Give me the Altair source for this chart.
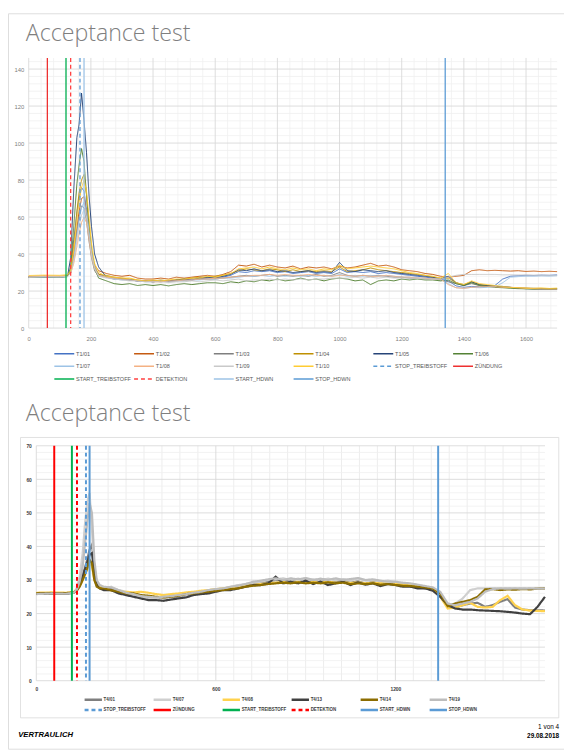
import altair as alt
import pandas as pd

# ---------------- shared time axis (s) ----------------
TIME = [0, 50, 100, 125, 135, 145, 155, 162, 170, 178, 186, 194, 202, 212, 225,
        250, 275, 300, 325, 350, 375, 400, 425, 450, 475,
        500, 525, 550, 575, 600, 625, 650, 675, 700, 725,
        750, 775, 800, 825, 850, 875, 900, 925, 950, 975,
        1000, 1025, 1050, 1075, 1100, 1125, 1150, 1175, 1200, 1225,
        1250, 1275, 1300, 1325, 1350, 1375, 1400, 1425, 1450, 1475,
        1500, 1525, 1550, 1575, 1600, 1625, 1650, 1675, 1700]

# ---------------- chart 1 series ----------------
T1_NAMES = ["T1/01", "T1/02", "T1/03", "T1/04", "T1/05", "T1/06",
            "T1/07", "T1/08", "T1/09", "T1/10"]
T1_COLORS = ["#4472C4", "#C55A11", "#7F7F7F", "#BF9000", "#264478", "#548235",
             "#9DC3E6", "#F4B183", "#C9C9C9", "#FFCC33"]

T1_01 = [27.6, 27.7, 27.6, 28, 32, 48, 62, 70, 76, 74, 64, 50, 40, 33, 29,
         28, 27, 26.5, 26, 25.5, 25.5, 25.5, 25, 25.5, 26,
         26, 26.5, 26.5, 27, 27.5, 27.5, 28.5, 30.5, 30, 31,
         30.5, 31, 30, 30.5, 29.5, 30, 30.5, 29.5, 30, 29.5,
         32, 30, 30.5, 30, 30.5, 29.5, 30, 29.5, 29, 28.5,
         28, 27.5, 27, 26.5, 25.5, 22.8, 22, 22.5, 22.3, 22.5,
         23, 26.5, 28, 28.3, 28.5, 28.4, 28.6, 28.5, 28.7]
T1_02 = [27.9, 28.1, 28, 28.2, 30, 40, 54, 63, 70, 71, 62, 50, 40, 34, 31,
         29.5, 28.5, 28, 28.5, 27, 26.5, 26.5, 27, 26.5, 27.5,
         27, 27.5, 28, 28.5, 28, 29, 30.5, 34, 33.5, 34.5,
         33, 34, 33, 32.5, 33.5, 32, 33, 32.5, 33, 32,
         33.5, 32.5, 33, 34, 35, 33.5, 34, 33, 31.5, 31,
         30.5, 29.5, 29, 28, 27.5, 28, 28.5, 31, 31.5, 31,
         31.2, 31, 30.8, 31, 30.6, 30.8, 30.5, 30.7, 30.5]
T1_03 = [27.5, 27.7, 27.6, 27.9, 30, 39, 52, 60, 66, 65, 58, 47, 38, 31, 28,
         28, 27, 26.5, 26, 25.5, 25.5, 25, 25.5, 25, 25.5,
         26, 26, 26.5, 26.5, 26.5, 27, 27.5, 28, 28.5, 28,
         28.5, 29, 28, 28.5, 28, 28.5, 28, 29, 28, 28.5,
         30, 28.5, 28, 28.5, 28, 28.5, 28, 27.5, 27.5, 27,
         27, 26.5, 26.5, 26, 25, 24, 23, 24, 23, 22.8,
         22.5, 22.2, 22, 21.8, 21.6, 21.5, 21.4, 21.3, 21.2]
T1_04 = [27.6, 27.9, 27.8, 28, 31, 45, 63, 73, 80, 83, 72, 56, 43, 33, 29,
         28.5, 27.5, 27, 26.5, 26, 25.5, 25.5, 26, 25.5, 26,
         26.5, 27, 27.5, 27.5, 28, 28.5, 29.5, 31, 32, 31.5,
         31, 32, 31.5, 30.5, 31.5, 30.5, 31, 30.5, 31, 30.5,
         33, 30.5, 31, 31.5, 32.5, 31.5, 31, 30.5, 30, 29.5,
         29, 28.5, 27.5, 27, 27, 24.5, 23.5, 25, 23.5, 23,
         22.5, 22, 21.8, 21.5, 21.5, 21.3, 21.4, 21.2, 21.4]
T1_05 = [27.5, 27.8, 27.6, 28, 38, 75, 103, 110, 127, 112, 95, 72, 55, 40, 33,
         27.5, 26.5, 26.5, 26, 25.5, 25.5, 25, 25.5, 25.5, 26,
         26.5, 26, 27, 27.5, 27, 28, 29, 31.5, 31, 32,
         31, 31.5, 30.5, 31, 30, 30.5, 31, 30, 30.5, 30,
         35.5, 31, 30.5, 31.5, 31, 30.5, 31, 30, 29.5, 29,
         28.5, 28, 27.5, 26.5, 28, 24.5, 23, 25, 23.5, 23,
         22.5, 22.5, 22, 21.5, 21.3, 21.2, 21, 21.2, 21]
T1_06 = [27.3, 27.5, 27.4, 27.8, 33, 55, 78, 88, 97, 90, 72, 55, 42, 32, 27,
         25.5, 24, 23.5, 24, 23, 23.5, 23, 23.5, 22.8, 23.5,
         24, 23.5, 24, 24.5, 24.5, 24, 25, 24.5, 25.5, 25,
         26, 25.5, 26.5, 25.5, 26, 27, 26, 26.5, 25.5, 26.5,
         27, 26.5, 25.5, 26, 23.5, 25.5, 26, 25.5, 26.5, 26,
         26.5, 26, 26, 25.5, 26, 24, 23, 24.5, 23, 22.5,
         22, 21.8, 21.5, 21.3, 21.2, 21, 21.2, 21, 21.1]
T1_07 = [27.4, 27.6, 27.5, 27.8, 30, 38, 50, 58, 65, 68, 63, 52, 42, 33, 28,
         27.5, 26.5, 26, 26, 25.5, 25, 25, 25.5, 25, 25.5,
         25.5, 26, 26, 26.5, 26.5, 27, 27, 27.5, 28, 28,
         28.5, 28, 28.5, 28, 28.5, 28, 28.5, 28, 28.5, 28,
         29, 28, 28.5, 28, 28.5, 28, 28.5, 28, 27.5, 27.5,
         27, 27, 26.5, 26.5, 24, 21.8, 21.5, 22, 21.8, 22,
         22.3, 24.5, 27.5, 27.8, 28, 28, 28.2, 28.1, 28.3]
T1_08 = [27.7, 27.9, 27.8, 28, 29.5, 35, 44, 51, 57, 60, 57, 48, 39, 32, 28.5,
         27.5, 27, 26.5, 26, 25.5, 25.5, 25, 25, 25.5, 25.5,
         26, 26, 26.5, 26.5, 27, 27, 27.5, 28, 28, 28.5,
         28.5, 29, 28.5, 29, 28.5, 28.5, 29, 28.5, 28.5, 28,
         28.5, 28.5, 28, 28.5, 28, 28, 28.5, 28, 27.5, 27.5,
         27, 27, 26.5, 26.5, 23.5, 21.8, 21.5, 22, 22.3, 22.5,
         22.3, 22, 22, 21.8, 21.5, 21.3, 21.2, 21.1, 21]
T1_09 = [27.5, 27.8, 27.7, 27.9, 29.5, 36, 47, 55, 61, 64, 60, 50, 40, 32, 28,
         27, 26.5, 26, 25.5, 25.5, 25, 25, 25, 24.5, 25,
         25, 25.5, 25, 25.5, 26, 25.5, 26, 26.5, 25.5, 26,
         26, 26.5, 26, 26.5, 26, 26.5, 26, 26.5, 26.5, 27,
         27, 27, 27.5, 27, 27.5, 27, 27.5, 27, 27, 27,
         27, 26.5, 26.5, 26.5, 27.5, 28.5, 29, 29, 29, 29,
         29, 28.8, 28.8, 28.7, 28.7, 28.6, 28.6, 28.5, 28.5]
T1_10 = [28.4, 28.6, 28.5, 28.8, 31, 42, 58, 68, 76, 80, 74, 60, 46, 35, 30,
         28, 27.5, 27, 27, 26, 25.5, 26, 25.5, 26, 26.5,
         26.5, 27, 27, 28, 27.5, 28.5, 29.5, 32, 32.5, 33,
         32, 33, 32, 31.5, 32.5, 31.5, 32, 31, 32, 31.5,
         34, 32, 32.5, 33, 33.5, 33, 32.5, 32, 31, 30,
         29.5, 28.5, 28, 27, 29.5, 24.5, 23.5, 25.5, 24, 23.5,
         23, 22.5, 22, 21.8, 21.6, 21.5, 21.7, 21.4, 21.6]
T1_SERIES = [T1_01, T1_02, T1_03, T1_04, T1_05, T1_06, T1_07, T1_08, T1_09, T1_10]

# ---------------- chart 2 series ----------------
T2_NAMES = ["T4/01", "T4/07", "T4/08", "T4/13", "T4/14", "T4/19"]
T2_COLORS = ["#7F7F7F", "#CFCFCF", "#FFD24D", "#404040", "#8C6D00", "#BDBDBD"]

T4_01 = [26, 26.1, 26, 26.3, 27, 29, 31.5, 33.5, 36, 39, 40.5, 34, 29, 28, 27.5,
         27.5, 26.5, 26, 25.5, 25, 24.8, 24.5, 24.8, 25, 25,
         25.5, 25.8, 26.3, 26.5, 27, 27.2, 27.5, 27.8, 28.2, 28.8,
         29, 29.5, 30, 29.5, 29.8, 29.3, 30, 29.5, 29.8, 29.3,
         29.5, 29.8, 29.2, 29.6, 29, 29.4, 29, 28.8, 29, 28.5,
         28.4, 28, 27.5, 27.2, 25.5, 22, 21.8, 22.5, 23, 23.2,
         22, 22.5, 23.5, 24.3, 21.8, 21.2, 21, 21, 20.9]
T4_07 = [26, 26.2, 26, 26.3, 27.5, 31, 38, 46, 53, 56, 45, 33, 29, 28, 27.5,
         28, 27, 26.5, 25.5, 25, 24.5, 24.5, 24.5, 25, 25.2,
         25.5, 26, 26.5, 26.8, 27.2, 27.5, 28, 28.5, 28.8, 29.2,
         29.5, 30, 30.2, 30.5, 30, 30.4, 29.8, 30.2, 30, 30.4,
         30, 30.3, 29.8, 30.5, 29.8, 30, 29.5, 29.8, 29.3, 29,
         28.8, 28.5, 28, 27.5, 26, 22.5, 23, 24.5, 27, 27.5,
         27.5, 27.6, 27.5, 27.6, 27.5, 27.6, 27.5, 27.6, 27.5]
T4_08 = [26.2, 26.3, 26.2, 26.4, 27, 28.2, 30, 31.5, 33, 35.5, 34, 30, 28.5, 28, 28,
         26.8, 26.5, 26.5, 26.3, 26.5, 26.2, 25.8, 25.5, 25.8, 26,
         26.3, 26.5, 26.8, 27, 27.3, 27.5, 27.8, 28, 28.3, 28.5,
         28.8, 29, 29.2, 29.4, 29.3, 29.5, 29.2, 29.4, 29.3, 29.5,
         29.2, 29.4, 29.1, 29.3, 29, 29.2, 29, 28.9, 28.8, 28.6,
         28.4, 28.2, 28, 27.6, 25, 21.5, 21.8, 22.5, 23.2, 22,
         21.8, 22, 24, 25.3, 22.5, 21.2, 20.9, 20.8, 20.7]
T4_13 = [25.9, 26, 25.9, 26.2, 26.8, 28.5, 31, 33, 35, 37.5, 38, 32, 28.5, 27.5, 27,
         27, 26, 25.5, 25, 24.5, 24, 24, 23.8, 24.2, 24.5,
         24.8, 25.5, 25.8, 26, 26.5, 27, 27, 27.5, 28, 28.5,
         28.5, 29, 31, 29, 29.5, 29, 29.8, 28.8, 29.5, 28.5,
         29, 29.5, 28.5, 29.3, 28.6, 29, 28.2, 28.8, 28.5, 28,
         28, 27.5, 27.5, 26.8, 25, 22.5, 21.5, 21.2, 21.2, 21,
         20.9, 20.8, 20.7, 20.5, 20.3, 20, 19.8, 22, 25]
T4_14 = [26, 26.1, 26.1, 26.3, 26.8, 28, 30, 31.5, 33.5, 36, 35, 30, 28, 27.5, 27.5,
         27, 26.5, 26, 26, 25.5, 25.3, 25, 24.8, 25, 25.3,
         25.8, 26, 26.3, 26.5, 26.8, 27, 27.3, 27.5, 28, 28.3,
         28.5, 28.8, 29, 29.2, 29, 29.3, 29, 29.2, 29, 29.3,
         29, 29.2, 28.8, 29, 28.8, 29, 28.6, 28.8, 28.5, 28.3,
         28.2, 28, 27.8, 27.5, 26, 22.2, 23, 23.5, 24, 25,
         27.2, 27.3, 27, 27.2, 27.1, 27.3, 27.2, 27.4, 27.5]
T4_19 = [25.8, 26, 25.9, 26.2, 27, 29.5, 34, 40, 47, 53, 50, 36, 30, 28.5, 28,
         27.8, 27, 26.2, 25.8, 25.2, 25, 24.8, 25, 25.2, 25.5,
         25.8, 26.2, 26.5, 27, 27.3, 27.5, 28, 28.3, 28.8, 29.5,
         29.8, 30.2, 30.5, 30, 30.5, 30.2, 30.6, 30, 30.4, 30,
         30.5, 30, 30.3, 30.6, 30, 30.2, 29.8, 29.5, 29.5, 29.2,
         29, 28.6, 28.2, 27.8, 26.5, 23, 22.5, 23, 23.5, 24.5,
         26.5, 27.3, 27.5, 27.4, 27.5, 27.4, 27.5, 27.4, 27.5]
T2_SERIES = [T4_01, T4_07, T4_08, T4_13, T4_14, T4_19]

# ---------------- event markers ----------------
EVENT_NAMES = ["STOP_TREIBSTOFF", "ZÜNDUNG", "START_TREIBSTOFF", "DETEKTION",
               "START_HDWN", "STOP_HDWN"]
EVENT_T1 = [165, 60, 120, 135, 178, 1340]
EVENT_T2 = [166, 60, 119, 136, 178, 1343]
EVENT_COLORS_1 = ["#5B9BD5", "#EE3030", "#00B050", "#FF4040", "#9DC3E6", "#5B9BD5"]
EVENT_COLORS_2 = ["#5B9BD5", "#FF0000", "#00B050", "#FF0000", "#5B9BD5", "#5B9BD5"]
EVENT_DASH = [[4, 3], [1, 0], [1, 0], [4, 3], [1, 0], [1, 0]]

T1_Y_TICKS = [0, 20, 40, 60, 80, 100, 120, 140]
T1_X_TICKS = [0, 200, 400, 600, 800, 1000, 1200, 1400, 1600]
T2_Y_TICKS = [0, 10, 20, 30, 40, 50, 60, 70]
T2_X_TICKS = [0, 600, 1200]

TITLE = "Acceptance test"
FOOT_LEFT = "VERTRAULICH"
FOOT_PAGE = "1 von 4"
FOOT_DATE = "29.08.2018"

for s in T1_SERIES + T2_SERIES:
    assert len(s) == len(TIME), len(s)

FONT = "Liberation Sans"
ONE = pd.DataFrame({"k": [0]})
W, H = 564, 746          # whole canvas (page minus the 8px margin)
NCOL = 6


def long_df(names, series):
    rows = []
    for n, vals in zip(names, series):
        for t, v in zip(TIME, vals):
            rows.append({"t": t, "v": v, "name": n})
    return pd.DataFrame(rows)


def text(txt, x, y, **kw):
    return alt.Chart(ONE).mark_text(text=txt, **kw).encode(x=alt.value(x), y=alt.value(y))


def legend_layers(names, cscale, dscale, x0, pitch, y_first, y_last,
                  sym_len, sym_w, label_dx, **label_kw):
    nrows = (len(names) + NCOL - 1) // NCOL
    df = pd.DataFrame({"name": names,
                       "col": [i % NCOL for i in range(len(names))],
                       "row": [i // NCOL for i in range(len(names))]})
    lx = alt.X("col:Q", scale=alt.Scale(domain=[0, NCOL - 1],
                                        range=[x0, x0 + (NCOL - 1) * pitch],
                                        nice=False, zero=False), axis=None)
    ly = alt.Y("row:Q", scale=alt.Scale(domain=[0, nrows - 1], range=[y_first, y_last],
                                        nice=False, zero=False), axis=None)
    sym = alt.Chart(df).mark_rule(strokeWidth=sym_w, x2Offset=sym_len).encode(
        x=lx, x2=alt.X2("col:Q"), y=ly,
        color=alt.Color("name:N", scale=cscale, legend=None),
        strokeDash=alt.StrokeDash("name:N", scale=dscale, legend=None))
    lab = alt.Chart(df).mark_text(align="left", baseline="middle", dx=label_dx,
                                  **label_kw).encode(x=lx, y=ly, text="name:N")
    return [sym, lab]


# =============== panel 1 ===============
L1, R1, T1, B1 = 21, 557, 45.3, 319.3
xs1 = alt.Scale(domain=[0, 1700], range=[L1, R1], nice=False, zero=False)
ys1 = alt.Scale(domain=[0, 146], range=[B1, T1], nice=False, zero=False)
dom1 = T1_NAMES + EVENT_NAMES
cs1 = alt.Scale(domain=dom1, range=T1_COLORS + EVENT_COLORS_1)
ds1 = alt.Scale(domain=dom1, range=[[1, 0]] * len(T1_NAMES) + EVENT_DASH)
ax1x = alt.Axis(values=T1_X_TICKS, orient="bottom", offset=B1 - H, format="d",
                grid=False, ticks=False, domain=False,
                labelFont=FONT, labelFontSize=6, labelColor="#808080",
                labelPadding=7.5, labelFlush=False, labelOverlap=False, title=None)
ax1y = alt.Axis(values=T1_Y_TICKS, orient="left", offset=-L1,
                grid=False, ticks=False, domain=False,
                labelFont=FONT, labelFontSize=6, labelColor="#808080",
                labelPadding=5, labelFlush=False, labelOverlap=False, title=None)
X1 = alt.X("t:Q", scale=xs1, axis=ax1x)
Y1 = alt.Y("v:Q", scale=ys1, axis=ax1y)
C1 = alt.Color("name:N", scale=cs1, legend=None)
D1 = alt.StrokeDash("name:N", scale=ds1, legend=None)

g1_minor_x = pd.DataFrame({"t": [v for v in range(0, 1701, 40) if v % 200]})
g1_major_x = pd.DataFrame({"t": list(range(0, 1701, 200))})
g1_minor_y = pd.DataFrame({"v": [v for v in range(0, 147, 4) if v % 20]})
g1_major_y = pd.DataFrame({"v": list(range(0, 141, 20))})

core1 = alt.layer(
    alt.Chart(g1_minor_x).mark_rule(color="#F0F0F0", strokeWidth=0.8).encode(
        x=X1, y=alt.value(T1), y2=alt.value(B1)),
    alt.Chart(g1_minor_y).mark_rule(color="#F0F0F0", strokeWidth=0.8).encode(
        y=Y1, x=alt.value(L1), x2=alt.value(R1)),
    alt.Chart(g1_major_x).mark_rule(color="#D9D9D9", strokeWidth=0.9).encode(
        x=X1, y=alt.value(T1), y2=alt.value(B1)),
    alt.Chart(g1_major_y).mark_rule(color="#D9D9D9", strokeWidth=0.9).encode(
        y=Y1, x=alt.value(L1), x2=alt.value(R1)),
    alt.Chart(long_df(T1_NAMES, T1_SERIES)).mark_line(strokeWidth=1).encode(
        x=X1, y=Y1, color=C1, strokeDash=D1),
    alt.Chart(pd.DataFrame({"t": EVENT_T1, "name": EVENT_NAMES})).mark_rule(strokeWidth=1.3).encode(
        x=X1, y=alt.value(T1), y2=alt.value(B1), color=C1, strokeDash=D1),
    text(TITLE, 18, 28, align="left", baseline="alphabetic", font="Open Sans",
         fontWeight=300, fontSize=23.5, color="#7F7F7F"),
)
panel1 = alt.layer(
    core1,
    *legend_layers(dom1, cs1, ds1, x0=47, pitch=80.9, y_first=345.3, y_last=371,
                   sym_len=20.2, sym_w=1.5, label_dx=22,
                   font=FONT, fontSize=5.6, color="#595959"),
).resolve_scale(x="independent", y="independent")

# =============== panel 2 ===============
L2, R2, T2, B2 = 28.7, 544.7, 438.7, 677
xs2 = alt.Scale(domain=[0, 1700], range=[L2, R2], nice=False, zero=False)
ys2 = alt.Scale(domain=[0, 70], range=[B2, T2], nice=False, zero=False)
dom2 = T2_NAMES + EVENT_NAMES
cs2 = alt.Scale(domain=dom2, range=T2_COLORS + EVENT_COLORS_2)
ds2 = alt.Scale(domain=dom2, range=[[1, 0]] * len(T2_NAMES) + EVENT_DASH)
ax2x = alt.Axis(values=T2_X_TICKS, orient="bottom", offset=B2 - H, format="d",
                grid=False, ticks=False, domain=False,
                labelFont=FONT, labelFontSize=5, labelFontWeight="bold",
                labelColor="#404040", labelPadding=6, labelFlush=False,
                labelOverlap=False, title=None)
ax2y = alt.Axis(values=T2_Y_TICKS, orient="left", offset=-L2,
                grid=False, ticks=False, domain=False,
                labelFont=FONT, labelFontSize=5, labelFontWeight="bold",
                labelColor="#404040", labelPadding=5, labelFlush=False,
                labelOverlap=False, title=None)
X2 = alt.X("t:Q", scale=xs2, axis=ax2x)
Y2 = alt.Y("v:Q", scale=ys2, axis=ax2y)
C2 = alt.Color("name:N", scale=cs2, legend=None)
D2 = alt.StrokeDash("name:N", scale=ds2, legend=None)

g2_minor_x = pd.DataFrame({"t": [v for v in range(0, 1701, 60) if v % 600]})
g2_major_x = pd.DataFrame({"t": list(range(0, 1701, 600))})
g2_minor_y = pd.DataFrame({"v": [v for v in range(0, 71, 2) if v % 10]})
g2_major_y = pd.DataFrame({"v": list(range(0, 71, 10))})

core2 = alt.layer(
    alt.Chart(ONE).mark_rect(fillOpacity=0, stroke="#D9D9D9", strokeWidth=0.8).encode(
        x=alt.value(12.7), x2=alt.value(558.7), y=alt.value(430.3), y2=alt.value(714.7)),
    alt.Chart(g2_minor_x).mark_rule(color="#EBEBEB", strokeWidth=0.9).encode(
        x=X2, y=alt.value(T2), y2=alt.value(B2)),
    alt.Chart(g2_minor_y).mark_rule(color="#F0F0F0", strokeWidth=0.8).encode(
        y=Y2, x=alt.value(L2), x2=alt.value(R2)),
    alt.Chart(g2_major_x).mark_rule(color="#D9D9D9", strokeWidth=0.9).encode(
        x=X2, y=alt.value(T2), y2=alt.value(B2)),
    alt.Chart(g2_major_y).mark_rule(color="#D9D9D9", strokeWidth=0.9).encode(
        y=Y2, x=alt.value(L2), x2=alt.value(R2)),
    alt.Chart(long_df(T2_NAMES, T2_SERIES)).mark_line(strokeWidth=2.2).encode(
        x=X2, y=Y2, color=C2, strokeDash=D2),
    alt.Chart(pd.DataFrame({"t": EVENT_T2, "name": EVENT_NAMES})).mark_rule(strokeWidth=2).encode(
        x=X2, y=alt.value(T2), y2=alt.value(B2), color=C2, strokeDash=D2),
    text(TITLE, 18, 413.7, align="left", baseline="alphabetic", font="Open Sans",
         fontWeight=300, fontSize=23.5, color="#7F7F7F"),
    text(FOOT_LEFT, 10.3, 732, align="left", baseline="middle", font=FONT,
         fontWeight="bold", fontStyle="italic", fontSize=7.8, color="#000000"),
    text(FOOT_PAGE, 559, 724.3, align="right", baseline="middle", font=FONT,
         fontSize=6.5, color="#000000"),
    text(FOOT_DATE, 559, 733.3, align="right", baseline="middle", font=FONT,
         fontWeight="bold", fontSize=6.5, color="#000000"),
)
panel2 = alt.layer(
    core2,
    *legend_layers(dom2, cs2, ds2, x0=77.7, pitch=70, y_first=696.3, y_last=706.7,
                   sym_len=17.6, sym_w=2.5, label_dx=19.3,
                   font=FONT, fontSize=4.5, fontWeight="bold", color="#404040"),
).resolve_scale(x="independent", y="independent")

chart = alt.layer(panel1, panel2).resolve_scale(
    x="independent", y="independent", color="independent", strokeDash="independent"
).properties(
    width=W, height=H, padding=0, autosize=alt.AutoSizeParams(type="none")
).configure_view(stroke="transparent").configure(background="#FFFFFF")

chart.save("out.html", embed_options={"renderer": "svg", "actions": False})
